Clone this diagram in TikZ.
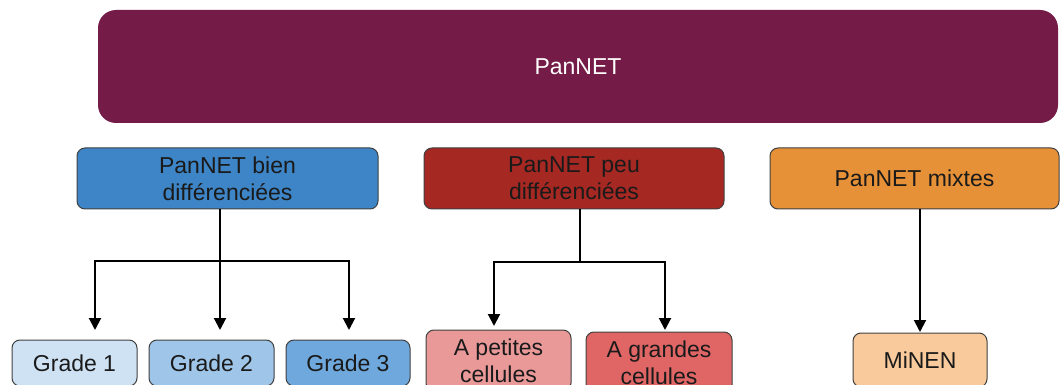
\documentclass[tikz,border=0pt]{standalone}
\usepackage{fontspec}
\setmainfont{Liberation Sans}
\usetikzlibrary{arrows.meta}
\definecolor{topc}{HTML}{741B47}
\definecolor{bluec}{HTML}{3D85C6}
\definecolor{redc}{HTML}{A52822}
\definecolor{orangec}{HTML}{E69138}
\definecolor{g1c}{HTML}{CFE2F3}
\definecolor{g2c}{HTML}{9FC5E8}
\definecolor{g3c}{HTML}{6FA8DC}
\definecolor{apc}{HTML}{EA9999}
\definecolor{agc}{HTML}{E06666}
\definecolor{mic}{HTML}{F9CB9C}
\definecolor{bord}{HTML}{404040}
\definecolor{txt}{HTML}{1A1A1A}
\tikzset{
  box/.style={draw=bord, line width=1pt, rounded corners=8pt, inner sep=0pt,
    align=center, text=txt, font=\fontsize{23}{27}\selectfont},
  arr/.style={line width=2pt, -{Triangle[width=12pt,length=12pt]}},
  ln/.style={line width=2pt}
}
\begin{document}
\begin{tikzpicture}[x=1pt,y=-1pt]
\useasboundingbox (0,0) rectangle (1061,385);
\clip (0,0) rectangle (1061,385);
% top
\node[box, draw=none, fill=topc, text=white, rounded corners=18pt, minimum width=960pt, minimum height=113pt] (top) at (578,66.5) {PanNET};
% level 2
\node[box, fill=bluec, minimum width=301pt, minimum height=61pt] (blue) at (227.5,178.5) {PanNET bien\\différenciées};
\node[box, fill=redc, minimum width=300pt, minimum height=61pt] (red) at (574,178.5) {PanNET peu\\différenciées};
\node[box, fill=orangec, minimum width=289pt, minimum height=61pt] (orange) at (914.5,178.5) {PanNET mixtes};
% level 3
\node[box, fill=g1c, minimum width=125pt, minimum height=46pt] (g1) at (74.5,363) {Grade 1};
\node[box, fill=g2c, minimum width=125pt, minimum height=46pt] (g2) at (211.5,363) {Grade 2};
\node[box, fill=g3c, minimum width=124pt, minimum height=46pt] (g3) at (348,363) {Grade 3};
\node[box, fill=apc, minimum width=145pt, minimum height=61pt] (ap) at (498.5,360.5) {A petites\\cellules};
\node[box, fill=agc, minimum width=146pt, minimum height=61pt] (ag) at (659,362.5) {A grandes\\cellules};
\node[box, fill=mic, minimum width=134pt, minimum height=54pt] (mi) at (920,360) {MiNEN};
% arrow tips
\coordinate (t1) at (95,330);
\coordinate (t2) at (220,330);
\coordinate (t3) at (349,330);
\coordinate (t4) at (494,326);
\coordinate (t5) at (665,330);
\coordinate (t6) at (920,332);
\coordinate (j1) at (220,261);
\coordinate (j2) at (580,262);
% connectors
\draw[ln] (blue.south -| j1) -- (j1);
\draw[arr] (j1) -| (t1);
\draw[arr] (j1) -- (t2);
\draw[arr] (j1) -| (t3);
\draw[ln] (red.south -| j2) -- (j2);
\draw[arr] (j2) -| (t4);
\draw[arr] (j2) -| (t5);
\draw[arr] (orange.south -| t6) -- (t6);
\end{tikzpicture}
\end{document}
